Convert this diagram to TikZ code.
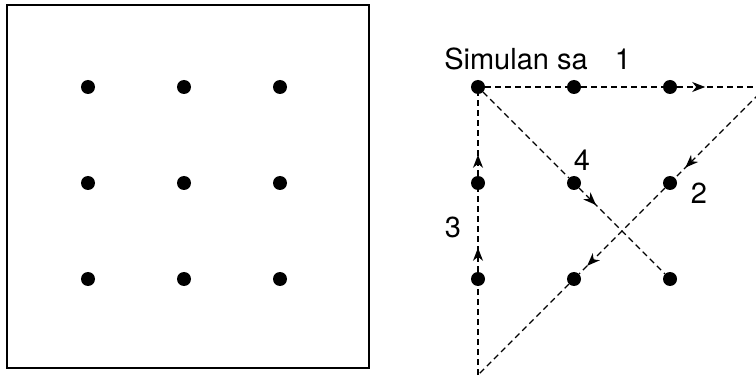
\documentclass[tikz,border=0pt]{standalone}
\usepackage{fontspec}
\setmainfont{TeX Gyre Heros}
\usetikzlibrary{arrows.meta, decorations.markings}

\tikzset{
  dot/.style={circle, fill=black, inner sep=0pt, minimum size=14pt},
  trail/.style={dash pattern=on 6pt off 4pt, line width=1.3pt},
  lbl/.style={font=\fontsize{29}{32}\selectfont, inner sep=0pt},
  arrowpos/.style={postaction={decorate}, decoration={markings,
      mark=at position #1 with {\arrow{Stealth[length=13pt,width=10pt,inset=4pt]}}}}
}

\begin{document}
\begin{tikzpicture}[x=1pt, y=-1pt]
\useasboundingbox (0,0) rectangle (756,377);

% Board with the nine dots
\draw[line width=1.5pt] (7,5) rectangle (369,368);
\node[dot] (L11) at (88,87) {};
\node[dot] (L12) at (184,87) {};
\node[dot] (L13) at (280,87) {};
\node[dot] (L21) at (88,183) {};
\node[dot] (L22) at (184,183) {};
\node[dot] (L23) at (280,183) {};
\node[dot] (L31) at (88,279) {};
\node[dot] (L32) at (184,279) {};
\node[dot] (L33) at (280,279) {};

% Solution dots
\node[dot] (R11) at (478,87) {};
\node[dot] (R12) at (574,87) {};
\node[dot] (R13) at (670,87) {};
\node[dot] (R21) at (478,183) {};
\node[dot] (R22) at (574,183) {};
\node[dot] (R23) at (670,183) {};
\node[dot] (R31) at (478,279) {};
\node[dot] (R32) at (574,279) {};
\node[dot] (R33) at (670,279) {};

% Corners outside the grid
\coordinate (turnA) at (766,87);
\coordinate (turnB) at (478,375);

% Labels
\node[lbl] (start) at (516,59) {Simulan sa};
\node[lbl] (n1) at (623,59) {1};
\node[lbl] (n2) at (699,193) {2};
\node[lbl] (n3) at (453,227) {3};
\node[lbl] (n4) at (582,160) {4};

% Line 1
\draw[trail] (R11) -- (R12);
\draw[trail] (R12) -- (R13);
\draw[trail, arrowpos=28pt] (R13) -- (turnA);

% Line 2
\draw[trail, arrowpos=114pt] (turnA) -- (R23);
\draw[trail, arrowpos=110pt] (R23) -- (R32);
\draw[trail] (R32) -- (turnB);

% Line 3
\draw[trail] (turnB) -- (R31);
\draw[trail, arrowpos=24pt] (R31) -- (R21);
\draw[trail, arrowpos=21pt] (R21) -- (R11);

% Line 4
\draw[trail] (R11) -- (R22);
\draw[trail, arrowpos=24pt] (R22) -- (R33);

\end{tikzpicture}
\end{document}
